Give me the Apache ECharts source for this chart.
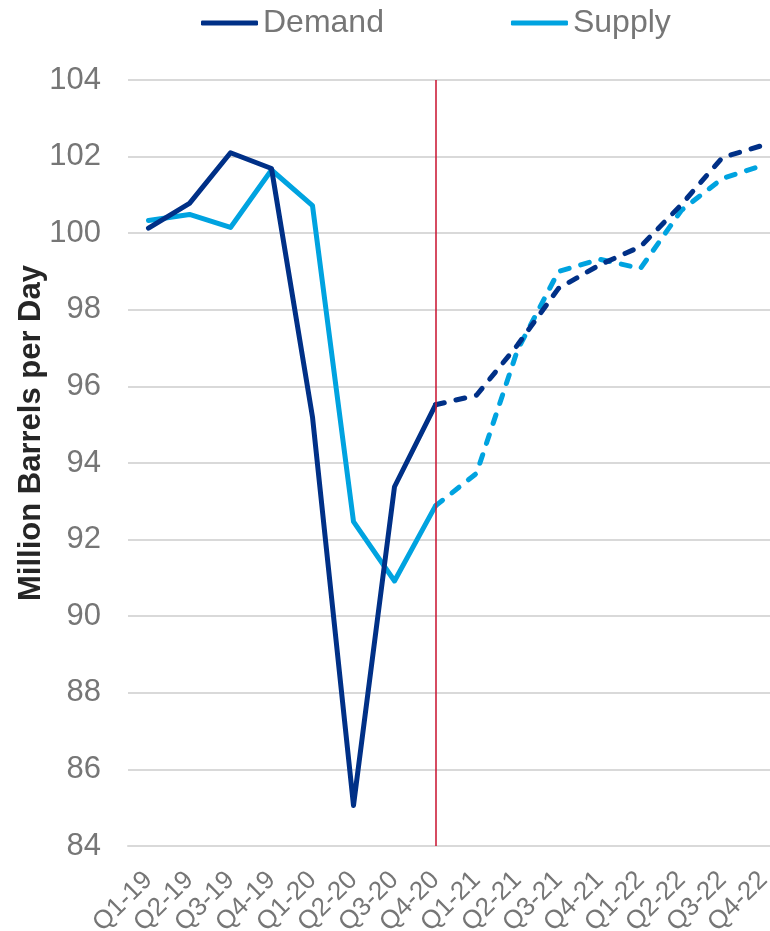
<!DOCTYPE html>
<html>
<head>
<meta charset="utf-8">
<script src="https://cdn.jsdelivr.net/npm/echarts@6/dist/echarts.min.js"></script>
<style>
  html, body { margin: 0; padding: 0; background: #fff; overflow: hidden; }
  /* the frame clips the plot, which runs slightly past its right edge */
  #frame { position: relative; width: 770px; height: 931px; overflow: hidden; }
  #chart { position: absolute; left: 0; top: 0; width: 784px; height: 931px; }
</style>
</head>
<body>
<div id="frame"><div id="chart"></div></div>
<script>
// Quarterly world oil balance, million barrels per day
const categories = ['Q1-19', 'Q2-19', 'Q3-19', 'Q4-19', 'Q1-20', 'Q2-20', 'Q3-20', 'Q4-20',
                    'Q1-21', 'Q2-21', 'Q3-21', 'Q4-21', 'Q1-22', 'Q2-22', 'Q3-22', 'Q4-22'];

// Historical values, Q1-19 through Q4-20
const demandActual = [100.13, 100.78, 102.10, 101.69, 95.20, 85.06, 93.38, 95.52];
const supplyActual = [100.33, 100.49, 100.15, 101.65, 100.72, 92.47, 90.92, 92.88];

// Forecast values, Q4-20 through Q4-22
const demandForecast = [95.52, 95.77, 97.08, 98.56, 99.17, 99.65, 100.75, 101.98, 102.30];
const supplyForecast = [92.88, 93.73, 96.95, 99.00, 99.32, 99.08, 100.60, 101.43, 101.78];

const yTicks = { min: 84, max: 104, interval: 2 };
const forecastStart = 'Q4-20';

const startIdx = categories.indexOf(forecastStart);
const padActual = arr => categories.map((_, i) => (i < arr.length ? arr[i] : '-'));
const padForecast = arr => categories.map((_, i) => (i >= startIdx ? arr[i - startIdx] : '-'));

const NAVY = '#003087';
const SKY = '#00A3E0';
const FONT = '"Liberation Sans", Arial, sans-serif';
const GREY = '#767676';

const chart = echarts.init(document.getElementById('chart'), null, { renderer: 'canvas' });

function lineSeries(name, color, data, dashed, extra) {
  return Object.assign({
    name: name,
    type: 'line',
    data: data,
    symbol: 'none',
    smooth: false,
    connectNulls: false,
    animation: false,
    lineStyle: {
      color: color,
      width: 5,
      type: dashed ? [9, 12] : 'solid',
      cap: 'round',
      join: 'round'
    },
    itemStyle: { color: color },
    z: 3
  }, extra || {});
}

chart.setOption({
  animation: false,
  backgroundColor: '#ffffff',
  textStyle: { fontFamily: FONT },
  legend: {
    data: ['Demand', 'Supply'],
    icon: 'roundRect',
    left: 196,
    top: 2,
    itemWidth: 57,
    itemHeight: 5,
    itemGap: 127,
    textStyle: { fontFamily: FONT, fontSize: 32, color: GREY }
  },
  grid: {
    left: 128,
    right: 0,
    top: 80,
    bottom: 85,
    containLabel: false,
    outerBoundsMode: 'none'
  },
  xAxis: {
    type: 'category',
    data: categories,
    boundaryGap: true,
    axisLine: { show: true, lineStyle: { color: '#D9D9D9', width: 2 } },
    axisTick: { show: false },
    splitLine: { show: false },
    axisLabel: {
      rotate: 45,
      interval: 0,
      margin: 30,
      fontFamily: FONT,
      fontSize: 26,
      color: GREY
    }
  },
  yAxis: {
    type: 'value',
    min: yTicks.min,
    max: yTicks.max,
    interval: yTicks.interval,
    axisLine: { show: false },
    axisTick: { show: false },
    splitLine: { show: true, lineStyle: { color: '#D9D9D9', width: 2 } },
    axisLabel: {
      margin: 27,
      fontFamily: FONT,
      fontSize: 31,
      color: GREY
    }
  },
  graphic: [{
    type: 'text',
    x: 31,
    y: 433,
    rotation: Math.PI / 2,
    style: {
      text: 'Million Barrels per Day',
      font: 'bold 31px ' + FONT,
      fill: '#262626',
      align: 'center',
      verticalAlign: 'middle'
    }
  }],
  series: [
    lineSeries('Demand', NAVY, padActual(demandActual), false, {
      markLine: {
        silent: true,
        symbol: 'none',
        label: { show: false },
        lineStyle: { color: '#C8102E', width: 1.5, type: 'solid' },
        data: [{ xAxis: forecastStart }],
        animation: false
      },
      z: 4
    }),
    lineSeries('Supply', SKY, padActual(supplyActual), false),
    lineSeries('Demand', NAVY, padForecast(demandForecast), true, { z: 4 }),
    lineSeries('Supply', SKY, padForecast(supplyForecast), true)
  ]
});
</script>
</body>
</html>
